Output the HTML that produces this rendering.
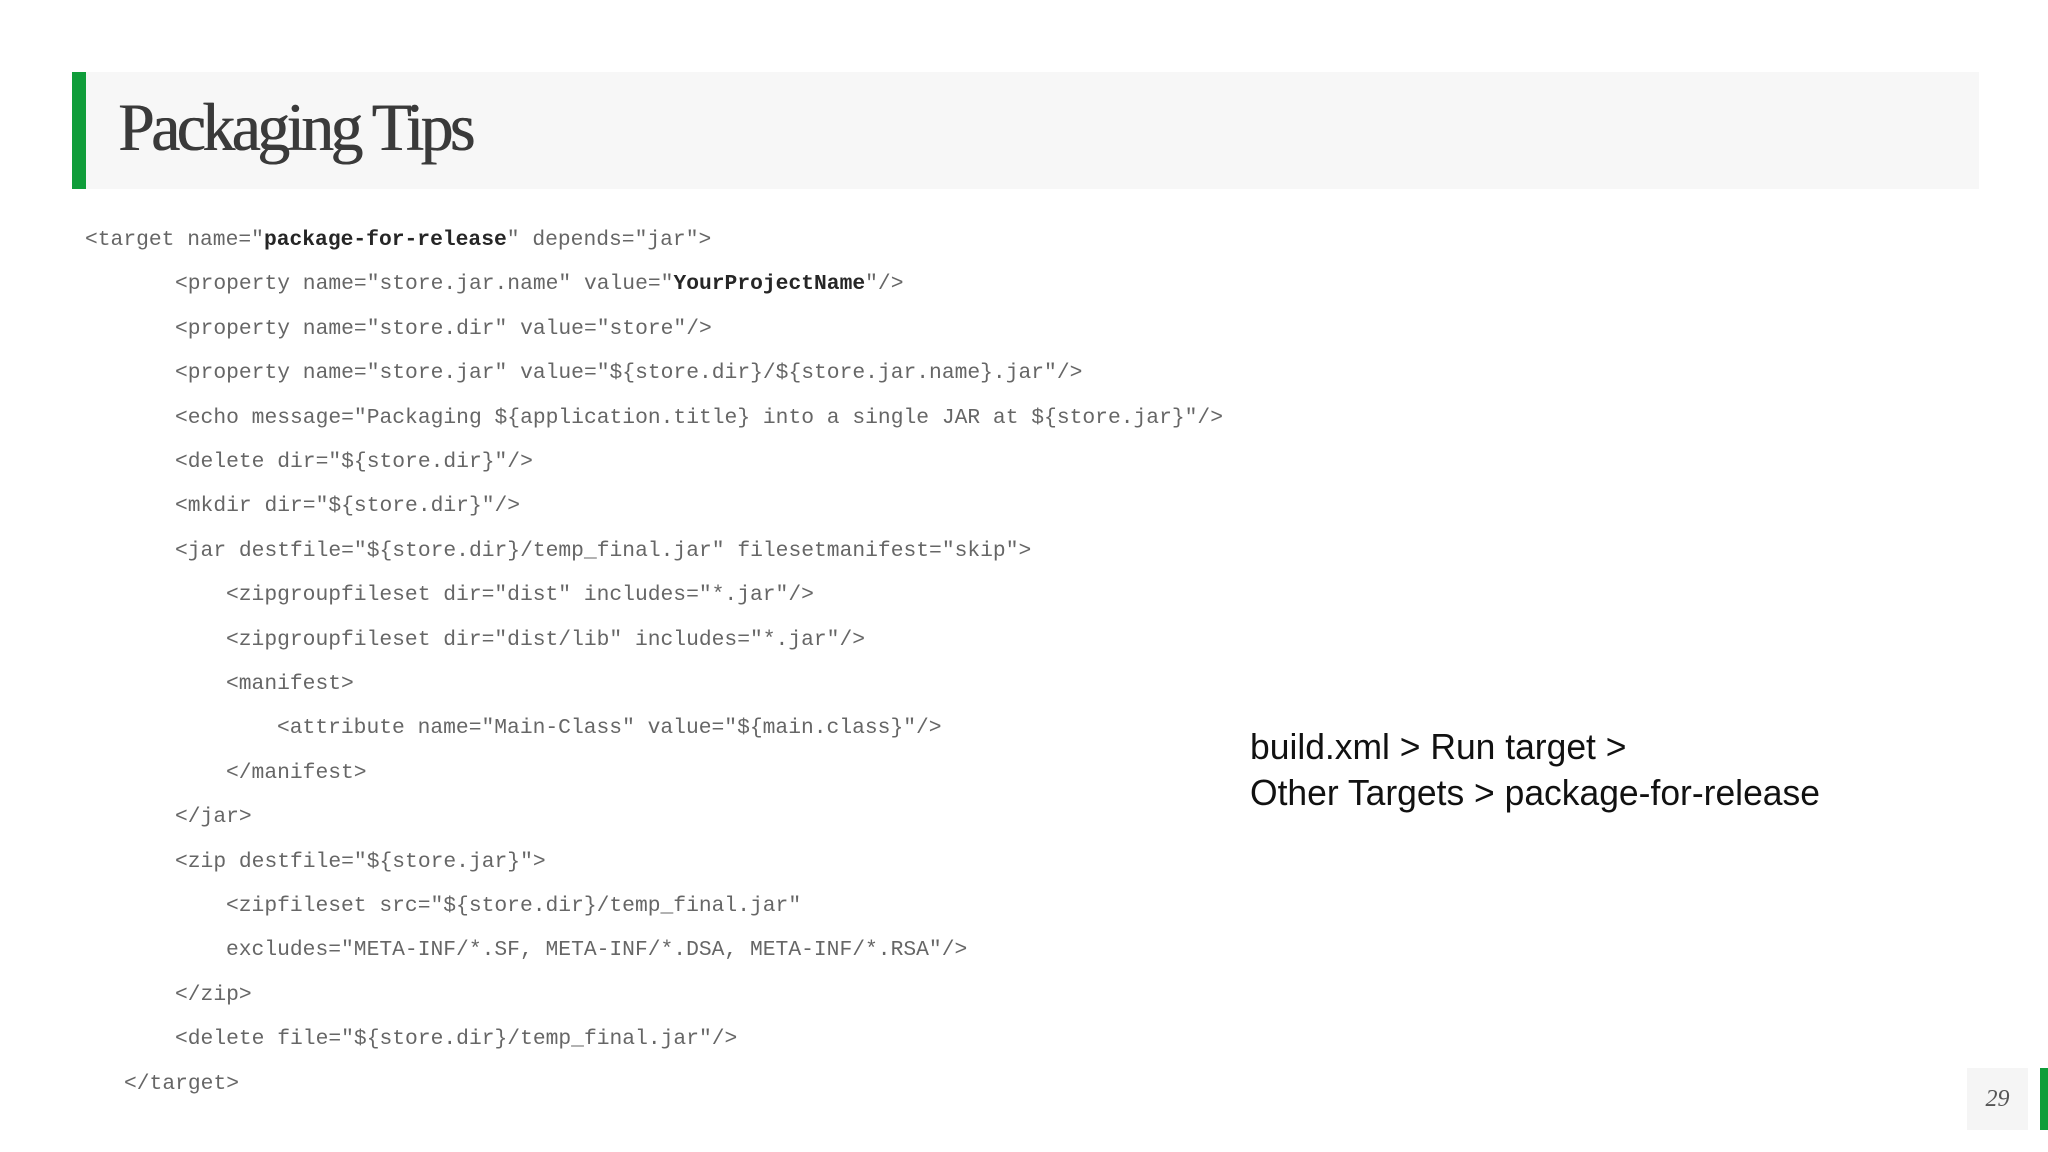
<!DOCTYPE html>
<html><head><meta charset="utf-8"><style>
html,body{margin:0;padding:0;background:#fff;}
body{width:2048px;height:1152px;position:relative;overflow:hidden;}
.hdr{position:absolute;left:72px;top:72px;width:1907px;height:117px;background:#f7f7f7;}
.bar{position:absolute;left:72px;top:72px;width:14px;height:117px;background:#0f9d3a;}
.title{position:absolute;left:118px;top:87px;font-family:"Liberation Serif",serif;font-size:68px;color:#3a3a3a;letter-spacing:-3.5px;white-space:nowrap;line-height:80px;text-shadow:0.8px 0 0 #3a3a3a;transform:scaleX(0.96);transform-origin:left center;}
.code{position:absolute;font-family:"Liberation Mono",monospace;font-size:21.3px;color:#666;white-space:pre;line-height:30px;}
.code b{color:#262626;}
.side{position:absolute;left:1250px;font-family:"Liberation Sans",sans-serif;font-size:36px;color:#111;white-space:nowrap;transform:scaleX(0.985);transform-origin:left center;line-height:46px;}
.pg{position:absolute;left:1967px;top:1068px;width:61px;height:62px;background:#f5f5f5;font-family:"Liberation Serif",serif;font-style:italic;font-size:24px;color:#555;text-align:center;line-height:62px;}
.pgbar{position:absolute;left:2040px;top:1068px;width:8px;height:62px;background:#0f9d3a;}
</style></head><body>
<div class="hdr"></div><div class="bar"></div>
<div class="title">Packaging Tips</div>
<div class="code" style="left:85px;top:225px">&lt;target name="<b>package-for-release</b>" depends="jar"&gt;</div>
<div class="code" style="left:175px;top:269px">&lt;property name="store.jar.name" value="<b>YourProjectName</b>"/&gt;</div>
<div class="code" style="left:175px;top:314px">&lt;property name="store.dir" value="store"/&gt;</div>
<div class="code" style="left:175px;top:358px">&lt;property name="store.jar" value="${store.dir}/${store.jar.name}.jar"/&gt;</div>
<div class="code" style="left:175px;top:403px">&lt;echo message="Packaging ${application.title} into a single JAR at ${store.jar}"/&gt;</div>
<div class="code" style="left:175px;top:447px">&lt;delete dir="${store.dir}"/&gt;</div>
<div class="code" style="left:175px;top:491px">&lt;mkdir dir="${store.dir}"/&gt;</div>
<div class="code" style="left:175px;top:536px">&lt;jar destfile="${store.dir}/temp_final.jar" filesetmanifest="skip"&gt;</div>
<div class="code" style="left:226px;top:580px">&lt;zipgroupfileset dir="dist" includes="*.jar"/&gt;</div>
<div class="code" style="left:226px;top:625px">&lt;zipgroupfileset dir="dist/lib" includes="*.jar"/&gt;</div>
<div class="code" style="left:226px;top:669px">&lt;manifest&gt;</div>
<div class="code" style="left:277px;top:713px">&lt;attribute name="Main-Class" value="${main.class}"/&gt;</div>
<div class="code" style="left:226px;top:758px">&lt;/manifest&gt;</div>
<div class="code" style="left:175px;top:802px">&lt;/jar&gt;</div>
<div class="code" style="left:175px;top:847px">&lt;zip destfile="${store.jar}"&gt;</div>
<div class="code" style="left:226px;top:891px">&lt;zipfileset src="${store.dir}/temp_final.jar"</div>
<div class="code" style="left:226px;top:935px">excludes="META-INF/*.SF, META-INF/*.DSA, META-INF/*.RSA"/&gt;</div>
<div class="code" style="left:175px;top:980px">&lt;/zip&gt;</div>
<div class="code" style="left:175px;top:1024px">&lt;delete file="${store.dir}/temp_final.jar"/&gt;</div>
<div class="code" style="left:124px;top:1069px">&lt;/target&gt;</div>
<div class="side" style="top:724px">build.xml &gt; Run target &gt;</div>
<div class="side" style="top:770px">Other Targets &gt; package-for-release</div>
<div class="pg">29</div><div class="pgbar"></div>
</body></html>
